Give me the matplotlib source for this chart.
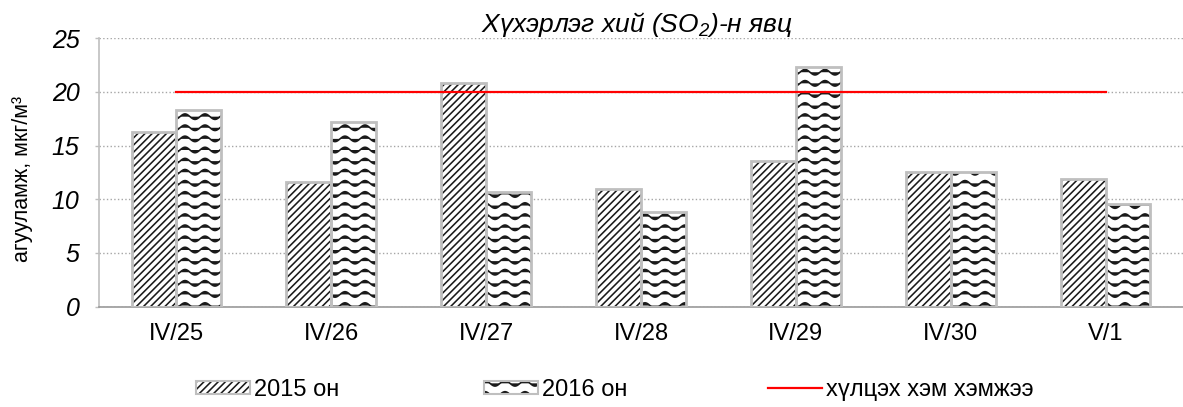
#!/usr/bin/env python3
import warnings
import numpy as np
import matplotlib
matplotlib.use("Agg")
import matplotlib.pyplot as plt
import matplotlib.hatch as mhatch
from matplotlib.path import Path
from matplotlib.patches import Patch
from matplotlib.lines import Line2D
from matplotlib.legend_handler import HandlerTuple

warnings.filterwarnings("ignore")

# ---------------------------------------------------
# Data
# ---------------------------------------------------
dates = ["IV/25", "IV/26", "IV/27", "IV/28", "IV/29", "IV/30", "V/1"]
so2_2015 = [16.3, 11.6, 20.8, 11.0, 13.6, 12.5, 11.85]
so2_2016 = [18.3, 17.2, 10.7, 8.8, 22.3, 12.5, 9.6]
limit_value = 20
labels = ["2015 он", "2016 он", "хүлцэх хэм хэмжээ"]


# ---------------------------------------------------
# Custom hatches: dense diagonal ('Z') and wavy ('~')
# ---------------------------------------------------
class DenseDiagonalHatch(mhatch.NorthEastHatch):
    def __init__(self, hatch, density):
        self.num_lines = 28 if "Z" in hatch else 0
        self.num_vertices = (self.num_lines + 1) * 2 if self.num_lines else 0


class WaveHatch(mhatch.HatchPatternBase):
    def __init__(self, hatch, density):
        self.num_lines = 9 if "~" in hatch else 0
        self.num_steps = 60
        self.num_vertices = self.num_lines * (self.num_steps + 1)

    def set_vertices_and_codes(self, vertices, codes):
        n = self.num_steps + 1
        xs = np.linspace(0, 1, n)
        for i in range(self.num_lines):
            y0 = (i + 0.5) / self.num_lines
            vertices[i * n:(i + 1) * n, 0] = xs
            vertices[i * n:(i + 1) * n, 1] = y0 + 0.028 * np.sin(2 * np.pi * 5 * xs)
            codes[i * n] = Path.MOVETO
            codes[i * n + 1:(i + 1) * n] = Path.LINETO


mhatch._hatch_types.append(DenseDiagonalHatch)
mhatch._hatch_types.append(WaveHatch)

plt.rcParams["font.family"] = ["Liberation Sans", "DejaVu Sans"]
plt.rcParams["mathtext.fontset"] = "custom"
plt.rcParams["mathtext.rm"] = "Liberation Sans:italic"
plt.rcParams["mathtext.it"] = "Liberation Sans:italic"
plt.rcParams["hatch.linewidth"] = 1.15

edge_gray = "#BFBFBF"
hatch_ink = "#1A1A1A"
hatch_2015 = "Z"
hatch_2016 = "~"

fig = plt.figure(figsize=(11.83, 4.07), dpi=100)
ax = fig.add_axes([0.0837, 0.2464, 0.9163, 0.660])

x = np.arange(len(dates))
w = 0.29

# hatch (dark) first, then gray outline on top
ax.bar(x - w / 2, so2_2015, w, facecolor="white", edgecolor=hatch_ink,
       hatch=hatch_2015, linewidth=0, zorder=2)
ax.bar(x - w / 2, so2_2015, w, fill=False, edgecolor=edge_gray,
       linewidth=2.0, zorder=3)
ax.bar(x + w / 2, so2_2016, w, facecolor="white", edgecolor=hatch_ink,
       hatch=hatch_2016, linewidth=0, zorder=2)
ax.bar(x + w / 2, so2_2016, w, fill=False, edgecolor=edge_gray,
       linewidth=2.0, zorder=3)

ax.plot(x, [limit_value] * len(x), color="#FF0000", linewidth=1.6, zorder=4)

ax.set_xlim(-0.5, len(dates) - 0.5)
ax.set_ylim(0, 25)
ax.set_yticks(np.arange(0, 26, 5))
ax.set_xticks(x)
ax.set_xticklabels(dates, fontsize=17)
ax.tick_params(axis="x", length=0, pad=12)
ax.tick_params(axis="y", length=3, width=1, color=edge_gray, pad=11,
               labelsize=18)
for lbl in ax.get_yticklabels():
    lbl.set_fontstyle("italic")

ax.grid(axis="y", linestyle=":", color="#A6A6A6", linewidth=1.0, zorder=0)
ax.set_axisbelow(True)
for s in ["top", "right"]:
    ax.spines[s].set_visible(False)
ax.spines["left"].set_color(edge_gray)
ax.spines["left"].set_linewidth(1.2)
ax.spines["bottom"].set_color("#999999")
ax.spines["bottom"].set_linewidth(1.2)

fig.text(0.5385, 0.94, "Хүхэрлэг хий (SO$_2$)-н явц", ha="center",
         va="center", fontsize=19, fontstyle="italic")
fig.text(0.019, 0.56, "агууламж, мкг/м³", rotation=90, ha="center",
         va="center", fontsize=15.5)

# ---------------------------------------------------
# Legend: three separate entries placed like the original
# ---------------------------------------------------
h2015 = (Patch(facecolor="white", edgecolor=hatch_ink, hatch=hatch_2015, linewidth=0),
         Patch(fill=False, edgecolor=edge_gray, linewidth=1.5))
h2016 = (Patch(facecolor="white", edgecolor=hatch_ink, hatch=hatch_2016, linewidth=0),
         Patch(fill=False, edgecolor=edge_gray, linewidth=1.5))
hline = Line2D([], [], color="#FF0000", linewidth=1.6)

for handle, label, xpos in [(h2015, labels[0], 196 / 1183),
                            (h2016, labels[1], 484 / 1183),
                            (hline, labels[2], 768 / 1183)]:
    fig.legend([handle], [label], loc="center left",
               bbox_to_anchor=(xpos, 0.042), frameon=False, fontsize=17,
               borderpad=0, borderaxespad=0, handlelength=2.3,
               handleheight=0.5, handletextpad=0.17,
               handler_map={tuple: HandlerTuple(ndivide=1)})

fig.savefig("out.png", dpi=100)
